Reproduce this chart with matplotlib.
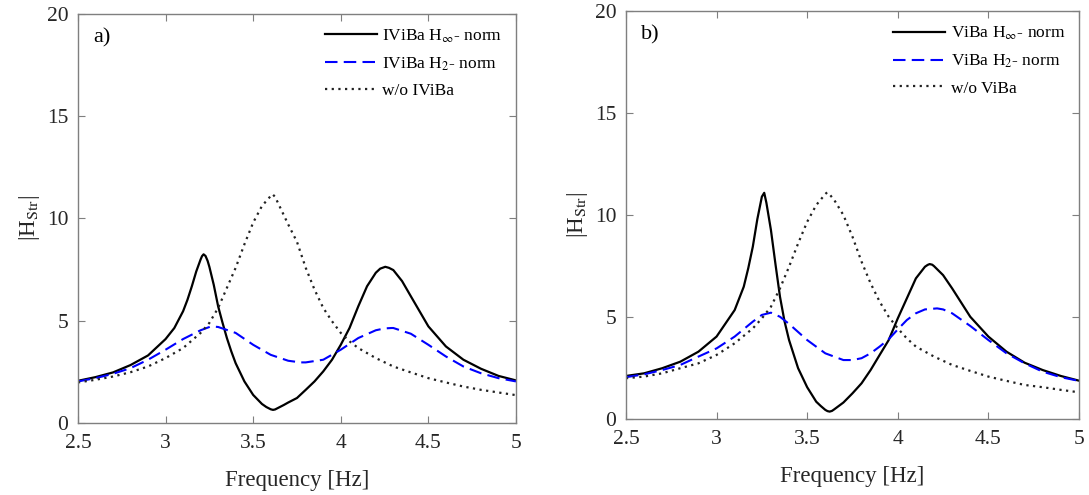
import matplotlib
matplotlib.use("Agg")
import matplotlib.pyplot as plt

plt.rcParams["font.family"] = ["Liberation Serif", "DejaVu Serif"]
plt.rcParams["mathtext.fontset"] = "stix"

# ---------------------------------------------------------------- panel a)
freq_a_hinf = [2.5, 2.6, 2.7, 2.8, 2.9, 3.0, 3.05, 3.1, 3.125, 3.15, 3.175, 3.2,
               3.208, 3.217, 3.228, 3.24, 3.25, 3.275, 3.3, 3.325, 3.35, 3.375,
               3.4, 3.45, 3.5, 3.55, 3.575, 3.6, 3.613, 3.625, 3.65, 3.675, 3.7,
               3.75, 3.8, 3.85, 3.9, 3.95, 4.0, 4.05, 4.1, 4.15, 4.2, 4.225,
               4.254, 4.275, 4.3, 4.35, 4.4, 4.5, 4.6, 4.7, 4.8, 4.9, 5.0]
mag_a_hinf = [2.06, 2.24, 2.47, 2.83, 3.30, 4.10, 4.64, 5.46, 6.02, 6.68, 7.40, 7.99,
              8.15, 8.24, 8.16, 7.92, 7.63, 6.75, 5.70, 4.90, 4.15, 3.50,
              2.92, 2.03, 1.37, 0.93, 0.78, 0.67, 0.64, 0.66, 0.77, 0.88, 1.00,
              1.22, 1.62, 2.03, 2.52, 3.09, 3.82, 4.64, 5.70, 6.68, 7.34, 7.54,
              7.63, 7.58, 7.47, 6.93, 6.19, 4.72, 3.74, 3.09, 2.65, 2.30, 2.08]

freq_a_h2 = [2.5, 2.6, 2.7, 2.8, 2.9, 3.0, 3.1, 3.2, 3.26, 3.3, 3.4, 3.5, 3.6,
             3.7, 3.77, 3.8, 3.9, 4.0, 4.1, 4.2, 4.25, 4.29, 4.3, 4.4, 4.5,
             4.6, 4.7, 4.8, 4.9, 5.0]
mag_a_h2 = [2.03, 2.19, 2.40, 2.68, 3.09, 3.58, 4.10, 4.53, 4.72, 4.69, 4.40, 3.82,
            3.33, 3.04, 2.96, 2.96, 3.09, 3.58, 4.15, 4.53, 4.62, 4.64, 4.64, 4.36,
            3.82, 3.25, 2.76, 2.43, 2.19, 2.03]

freq_a_none = [2.5, 2.6, 2.7, 2.8, 2.9, 3.0, 3.1, 3.2, 3.25, 3.3, 3.35, 3.4, 3.45,
               3.5, 3.55, 3.6, 3.61, 3.625, 3.65, 3.7, 3.75, 3.8, 3.85, 3.9, 3.95,
               4.0, 4.05, 4.1, 4.2, 4.3, 4.4, 4.5, 4.6, 4.7, 4.8, 4.9, 5.0]
mag_a_none = [1.98, 2.11, 2.27, 2.48, 2.76, 3.17, 3.66, 4.40, 4.89, 5.62, 6.60, 7.58,
              8.73, 9.79, 10.6, 11.09, 11.18, 11.05, 10.6, 9.70, 8.85, 7.58, 6.52,
              5.62, 4.97, 4.40, 3.99, 3.66, 3.17, 2.76, 2.47, 2.19, 1.98, 1.78, 1.62,
              1.49, 1.36]

# ---------------------------------------------------------------- panel b)
freq_b_hinf = [2.5, 2.6, 2.7, 2.8, 2.9, 3.0, 3.1, 3.15, 3.175, 3.2, 3.225, 3.25,
               3.263, 3.275, 3.3, 3.325, 3.35, 3.375, 3.4, 3.45, 3.5, 3.55, 3.575,
               3.6, 3.612, 3.624, 3.637, 3.65, 3.7, 3.75, 3.8, 3.85, 3.9, 3.95,
               4.0, 4.05, 4.1, 4.15, 4.165, 4.176, 4.19, 4.2, 4.25, 4.3, 4.4, 4.5,
               4.6, 4.7, 4.8, 4.9, 5.0]
mag_b_hinf = [2.12, 2.25, 2.50, 2.82, 3.31, 4.05, 5.35, 6.49, 7.40, 8.45, 9.80, 10.9,
              11.09, 10.6, 9.27, 7.60, 6.00, 4.80, 3.88, 2.50, 1.57, 0.86, 0.65,
              0.46, 0.40, 0.375, 0.41, 0.49, 0.82, 1.27, 1.76, 2.41, 3.15, 3.88,
              4.94, 5.92, 6.90, 7.47, 7.56, 7.60, 7.57, 7.50, 7.06, 6.41, 5.02, 4.05,
              3.31, 2.77, 2.41, 2.12, 1.89]

freq_b_h2 = [2.5, 2.6, 2.7, 2.8, 2.9, 3.0, 3.1, 3.2, 3.25, 3.3, 3.35, 3.4, 3.5,
             3.6, 3.7, 3.75, 3.8, 3.85, 3.9, 3.95, 4.0, 4.05, 4.1, 4.15, 4.217,
             4.25, 4.3, 4.4, 4.5, 4.6, 4.7, 4.8, 4.9, 5.0]
mag_b_h2 = [2.06, 2.20, 2.41, 2.66, 3.07, 3.47, 4.05, 4.78, 5.11, 5.22, 5.02, 4.67, 3.88,
            3.23, 2.90, 2.90, 2.99, 3.23, 3.56, 3.92, 4.40, 4.86, 5.19, 5.38, 5.43,
            5.38, 5.19, 4.57, 3.88, 3.23, 2.74, 2.33, 2.06, 1.88]

freq_b_none = [2.5, 2.6, 2.7, 2.8, 2.9, 3.0, 3.1, 3.2, 3.25, 3.3, 3.35, 3.4, 3.45,
               3.5, 3.55, 3.6, 3.61, 3.625, 3.65, 3.7, 3.75, 3.8, 3.85, 3.9, 3.95,
               4.0, 4.05, 4.1, 4.2, 4.3, 4.4, 4.5, 4.6, 4.7, 4.8, 4.9, 5.0]
mag_b_none = [2.01, 2.09, 2.25, 2.50, 2.74, 3.15, 3.72, 4.45, 4.94, 5.51, 6.41, 7.47,
              8.61, 9.67, 10.49, 11.03, 11.11, 11.0, 10.73, 10.0, 8.94, 7.72, 6.66,
              5.76, 5.02, 4.45, 3.96, 3.56, 3.07, 2.66, 2.37, 2.09, 1.88, 1.68, 1.57,
              1.44, 1.32]

x_ticks = [2.5, 3.0, 3.5, 4.0, 4.5, 5.0]
x_tick_labels = ["2.5", "3", "3.5", "4", "4.5", "5"]
y_ticks = [0, 5, 10, 15, 20]

panels = [
    ("a)", "IViBa", (freq_a_hinf, mag_a_hinf), (freq_a_h2, mag_a_h2), (freq_a_none, mag_a_none)),
    ("b)", "ViBa", (freq_b_hinf, mag_b_hinf), (freq_b_h2, mag_b_h2), (freq_b_none, mag_b_none)),
]

fig = plt.figure(figsize=(10.89, 4.95), dpi=100)
ax_rects = [[0.0716, 0.1455, 0.4022, 0.827], [0.5748, 0.153, 0.416, 0.825]]

AXIS_GREY = "#7f7f7f"
TEXT_DARK = "#262626"

for rect, (tag, name, hinf, h2, none) in zip(ax_rects, panels):
    ax = fig.add_axes(rect)
    ax.plot(hinf[0], hinf[1], color="black", linewidth=1.6,
            label=name + r" H$_{\infty}$- norm")
    ax.plot(h2[0], h2[1], color="#0000ff", linewidth=1.5, linestyle=(0, (6, 3)),
            label=name + r" H$_{2}$- norm")
    ax.plot(none[0], none[1], color="#222222", linewidth=1.6, linestyle=(0, (1, 2)),
            label="w/o " + name)

    ax.set_xlim(2.5, 5)
    ax.set_ylim(0, 20)
    ax.set_xticks(x_ticks)
    ax.set_xticklabels(x_tick_labels)
    ax.set_yticks(y_ticks)
    ax.tick_params(direction="in", top=True, right=True, length=5, width=0.8,
                   colors=AXIS_GREY, labelcolor=TEXT_DARK, labelsize=15.5)
    ax.tick_params(axis="x", pad=8)
    ax.tick_params(axis="y", pad=7)
    for sp in ax.spines.values():
        sp.set_color(AXIS_GREY)
        sp.set_linewidth(1.0)

    ax.set_xlabel("Frequency [Hz]", fontsize=16.5, color=TEXT_DARK, labelpad=12)
    ax.set_ylabel(r"|H$_{\mathrm{Str}}$|", fontsize=16.5, color=TEXT_DARK, labelpad=3)
    ax.text(0.034, 0.965, tag, transform=ax.transAxes, fontsize=16,
            va="top", ha="left", color="black")

    ax.legend(loc="upper right", frameon=False, fontsize=12.5, handlelength=3.0,
              handletextpad=0.3, labelspacing=0.6, borderaxespad=0.4)

fig.savefig("out.png", dpi=100)
